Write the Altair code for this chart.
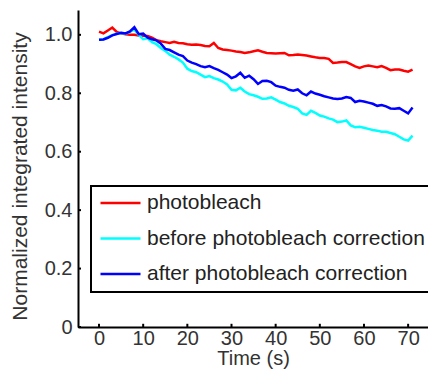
import altair as alt
import pandas as pd

time_s = list(range(72))

photobleach = [1.011, 1.005, 1.015, 1.025, 1.010, 1.005, 1.002, 1.000, 1.000, 0.998,
               0.997, 0.996, 0.990, 0.982, 0.978, 0.975, 0.972, 0.976, 0.972, 0.971,
               0.968, 0.966, 0.967, 0.965, 0.962, 0.961, 0.972, 0.955, 0.950, 0.948,
               0.946, 0.943, 0.941, 0.938, 0.940, 0.944, 0.947, 0.942, 0.938, 0.937,
               0.936, 0.937, 0.938, 0.930, 0.931, 0.933, 0.931, 0.929, 0.926, 0.923,
               0.921, 0.921, 0.918, 0.904, 0.905, 0.907, 0.907, 0.900, 0.892, 0.887,
               0.892, 0.895, 0.892, 0.889, 0.893, 0.887, 0.879, 0.881, 0.881, 0.877,
               0.874, 0.881]

before_correction = [0.983, 0.985, 0.992, 0.999, 1.004, 1.006, 1.004, 1.010, 1.018, 1.000,
                     0.985, 0.988, 0.975, 0.968, 0.955, 0.945, 0.932, 0.925, 0.916, 0.905,
                     0.884, 0.876, 0.872, 0.864, 0.855, 0.859, 0.852, 0.847, 0.840, 0.830,
                     0.812, 0.810, 0.819, 0.806, 0.797, 0.793, 0.788, 0.781, 0.782, 0.786,
                     0.778, 0.770, 0.765, 0.757, 0.753, 0.747, 0.731, 0.726, 0.740, 0.733,
                     0.724, 0.720, 0.714, 0.710, 0.701, 0.703, 0.707, 0.690, 0.684, 0.685,
                     0.682, 0.678, 0.674, 0.672, 0.668, 0.668, 0.664, 0.660, 0.651, 0.642,
                     0.638, 0.655]

after_correction = [0.983, 0.984, 0.990, 0.998, 1.003, 1.007, 1.005, 1.012, 1.026, 1.002,
                    1.004, 0.990, 0.985, 0.981, 0.970, 0.952, 0.948, 0.940, 0.932, 0.927,
                    0.912, 0.905, 0.900, 0.893, 0.889, 0.893, 0.886, 0.880, 0.872, 0.864,
                    0.852, 0.858, 0.870, 0.853, 0.860, 0.848, 0.832, 0.842, 0.843, 0.838,
                    0.826, 0.822, 0.819, 0.812, 0.809, 0.813, 0.800, 0.793, 0.806, 0.799,
                    0.795, 0.790, 0.786, 0.782, 0.780, 0.782, 0.787, 0.784, 0.770, 0.774,
                    0.772, 0.768, 0.764, 0.757, 0.760, 0.755, 0.748, 0.747, 0.749, 0.740,
                    0.731, 0.751]

series_names = ["photobleach", "before photobleach correction", "after photobleach correction"]
series_colors = ["#ff0000", "#00ffff", "#0000ff"]
x_ticks = [0, 10, 20, 30, 40, 50, 60, 70]
y_ticks = [0, 0.2, 0.4, 0.6, 0.8, 1.0]

rows = []
for name, vals in zip(series_names, [photobleach, before_correction, after_correction]):
    for t, v in zip(time_s, vals):
        rows.append({"t": t, "v": v, "series": name})
df = pd.DataFrame(rows)

x_min, x_max = -4.76, 74.5
xscale = alt.Scale(domain=[x_min, x_max], nice=False, zero=False)
yscale = alt.Scale(domain=[0, 1.085], nice=False, zero=False)

x_axis = alt.Axis(values=x_ticks, title="Time (s)", labelPadding=1, titlePadding=0,
                  titleFontSize=20)
y_axis = alt.Axis(values=y_ticks, title="Normalized integrated intensity",
                  labelExpr="datum.value == 0 ? '0' : format(datum.value, '.1f')",
                  labelPadding=6, titlePadding=14, titleY=166)

color = alt.Color(
    "series:N",
    scale=alt.Scale(domain=series_names, range=series_colors),
    sort=series_names,
    legend=alt.Legend(
        title=None, orient="none", legendX=13, legendY=176,
        symbolType="stroke", symbolSize=1600, symbolStrokeWidth=2.5,
        labelFont="Liberation Sans", labelFontSize=21, labelColor="#222222",
        labelOffset=5, padding=8, strokeColor="black", fillColor="white",
        clipHeight=18, rowPadding=14.5, labelLimit=500,
    ),
)

layers = []
for name in series_names:
    layers.append(
        alt.Chart(df).transform_filter(alt.datum.series == name)
        .mark_line(strokeWidth=2.5, clip=True)
        .encode(x=alt.X("t:Q", scale=xscale, axis=x_axis),
                y=alt.Y("v:Q", scale=yscale, axis=y_axis),
                color=color)
    )

xt = alt.Chart(pd.DataFrame({"t": x_ticks})).mark_rule(color="black", strokeWidth=2).encode(
    x=alt.X("t:Q", scale=xscale, axis=x_axis),
    y=alt.Y(datum=0, scale=yscale, axis=y_axis),
    y2=alt.Y2(datum=0.011),
)
yt = alt.Chart(pd.DataFrame({"v": y_ticks})).mark_rule(color="black", strokeWidth=2).encode(
    y=alt.Y("v:Q", scale=yscale, axis=y_axis),
    x=alt.X(datum=x_min, scale=xscale, axis=x_axis),
    x2=alt.X2(datum=x_min + 0.68),
)

chart = alt.layer(*layers, xt, yt).properties(
    width=350, height=317,
    autosize=alt.AutoSizeParams(type="none"),
    padding={"left": 70, "top": 2, "right": 0, "bottom": 44},
).configure_axis(
    domainColor="black", domainWidth=2, ticks=False, grid=False,
    labelFont="Liberation Sans", labelFontSize=20, labelColor="#333333",
    titleFont="Liberation Sans", titleFontSize=21, titleColor="#333333",
    titleFontWeight="normal",
).configure_legend(strokeWidth=2).configure_view(stroke=None)

chart.save("out.html", embed_options={"renderer": "svg", "actions": False})
